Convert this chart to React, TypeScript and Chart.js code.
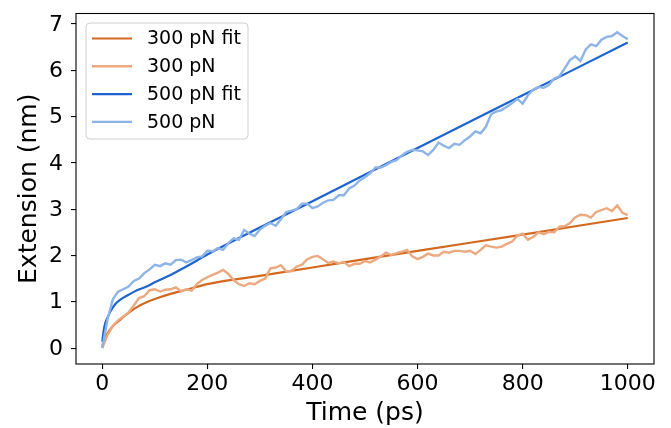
import React, { useEffect, useRef } from "react";
import { Chart, registerables } from "chart.js";

Chart.register(...registerables);

// sampling times of the measured traces (ps)
const time: number[] = Array.from({ length: 101 }, (_, i) => i * 10);

const ext300: number[] = [
  0.0, 0.28, 0.48, 0.6, 0.68, 0.77, 0.92, 1.08, 1.12, 1.25,
  1.27, 1.22, 1.26, 1.27, 1.31, 1.23, 1.27, 1.24, 1.38, 1.47,
  1.53, 1.58, 1.63, 1.69, 1.6, 1.47, 1.38, 1.34, 1.4, 1.38,
  1.45, 1.5, 1.72, 1.74, 1.79, 1.66, 1.66, 1.76, 1.8, 1.92,
  1.97, 1.99, 1.92, 1.84, 1.87, 1.83, 1.86, 1.77, 1.82, 1.82,
  1.88, 1.85, 1.91, 1.98, 2.06, 2.01, 2.05, 2.08, 2.12, 1.98,
  1.92, 1.97, 2.04, 2.0, 2.0, 2.08, 2.06, 2.1, 2.1, 2.08,
  2.1, 2.03, 2.12, 2.22, 2.19, 2.17, 2.19, 2.25, 2.3, 2.43,
  2.47, 2.34, 2.4, 2.5, 2.46, 2.51, 2.5, 2.62, 2.63, 2.7,
  2.82, 2.88, 2.87, 2.82, 2.94, 2.98, 3.02, 2.96, 3.08, 2.92,
  2.87,
];

const ext500: number[] = [
  0.0, 0.62, 1.05, 1.22, 1.27, 1.33, 1.45, 1.5, 1.62, 1.7,
  1.8, 1.77, 1.83, 1.8, 1.9, 1.91, 1.85, 1.9, 1.96, 1.98,
  2.1, 2.09, 2.16, 2.12, 2.27, 2.37, 2.34, 2.55, 2.47, 2.42,
  2.56, 2.64, 2.7, 2.64, 2.78, 2.94, 2.97, 3.0, 3.12, 3.12,
  3.02, 3.06, 3.14, 3.19, 3.2, 3.3, 3.3, 3.45, 3.51, 3.62,
  3.69, 3.78, 3.9, 3.9, 3.95, 4.02, 4.06, 4.16, 4.24, 4.28,
  4.27, 4.25, 4.17, 4.28, 4.44, 4.37, 4.32, 4.41, 4.39, 4.49,
  4.57, 4.68, 4.64, 4.78, 5.05, 5.11, 5.14, 5.21, 5.29, 5.38,
  5.28, 5.46, 5.58, 5.64, 5.62, 5.68, 5.82, 5.87, 6.04, 6.22,
  6.3, 6.2, 6.45, 6.56, 6.52, 6.66, 6.72, 6.74, 6.82, 6.74,
  6.67,
];

const fitTime300: number[] = [0, 5, 10, 20, 35, 50, 65, 80, 100, 130, 160, 200, 300, 400, 600, 800, 1000];
const fit300: number[] = [0.05, 0.22, 0.32, 0.47, 0.62, 0.76, 0.88, 0.97, 1.06, 1.17, 1.26, 1.38, 1.56, 1.74, 2.1, 2.45, 2.81];

const fitTime500: number[] = [0, 3, 6, 10, 16, 25, 35, 50, 66, 82, 100, 130, 160, 200, 400, 600, 800, 1000];
const fit500: number[] = [0.14, 0.4, 0.55, 0.66, 0.8, 0.95, 1.05, 1.15, 1.25, 1.32, 1.42, 1.58, 1.76, 2.02, 3.17, 4.32, 5.46, 6.6];

const xTicks: number[] = [0, 200, 400, 600, 800, 1000];
const yTicks: number[] = [0, 1, 2, 3, 4, 5, 6, 7];

const labels: string[] = ["300 pN fit", "300 pN", "500 pN fit", "500 pN"];
const colors: string[] = ["#d2691e", "#eca97f", "#1c64d0", "#8db4e8"];

const FONT = "'DejaVu Sans', sans-serif";

const frame = {
  id: "frame",
  afterDatasetsDraw(chart: any) {
    const { ctx, chartArea: a } = chart;
    ctx.save();
    ctx.strokeStyle = "#000";
    ctx.lineWidth = 1.1;
    ctx.strokeRect(a.left, a.top, a.right - a.left, a.bottom - a.top);

    // tick labels, placed through the scales
    ctx.fillStyle = "#000";
    ctx.font = `22px ${FONT}`;
    const xs = chart.scales.x;
    const ys = chart.scales.y;
    ctx.textAlign = "center";
    ctx.textBaseline = "middle";
    xTicks.forEach((v) => ctx.fillText(String(v), xs.getPixelForValue(v), a.bottom + 20));
    ctx.textAlign = "right";
    yTicks.forEach((v) => ctx.fillText(String(v), a.left - 13, ys.getPixelForValue(v) + 1));

    // legend
    const bx = 86, by = 23, bw = 162, bh = 116, r = 4;
    ctx.beginPath();
    ctx.moveTo(bx + r, by);
    ctx.lineTo(bx + bw - r, by);
    ctx.quadraticCurveTo(bx + bw, by, bx + bw, by + r);
    ctx.lineTo(bx + bw, by + bh - r);
    ctx.quadraticCurveTo(bx + bw, by + bh, bx + bw - r, by + bh);
    ctx.lineTo(bx + r, by + bh);
    ctx.quadraticCurveTo(bx, by + bh, bx, by + bh - r);
    ctx.lineTo(bx, by + r);
    ctx.quadraticCurveTo(bx, by, bx + r, by);
    ctx.closePath();
    ctx.fillStyle = "rgba(255,255,255,0.8)";
    ctx.fill();
    ctx.strokeStyle = "#d0d0d0";
    ctx.lineWidth = 1;
    ctx.stroke();
    chart.data.datasets.forEach((ds: any, i: number) => {
      const y = 38.5 + i * 27.8;
      ctx.beginPath();
      ctx.strokeStyle = ds.borderColor;
      ctx.lineWidth = ds.borderWidth;
      ctx.moveTo(92, y);
      ctx.lineTo(132, y);
      ctx.stroke();
      ctx.fillStyle = "#000";
      ctx.font = `19px ${FONT}`;
      ctx.textBaseline = "middle";
      ctx.textAlign = "left";
      ctx.fillText(ds.label, 147, y + 1);
    });
    ctx.restore();
  },
};

export default function App() {
  const ref = useRef<HTMLCanvasElement | null>(null);
  useEffect(() => {
    if (!ref.current) return;
    const chart = new Chart(ref.current, {
      type: "line",
      data: {
        datasets: [
          {
            label: labels[0],
            data: fitTime300.map((t, i) => ({ x: t, y: fit300[i] })),
            borderColor: colors[0],
            borderWidth: 2.2,
            pointRadius: 0,
            cubicInterpolationMode: "monotone",
            order: 4,
          },
          {
            label: labels[1],
            data: time.map((t, i) => ({ x: t, y: ext300[i] })),
            borderColor: colors[1],
            borderWidth: 2.4,
            pointRadius: 0,
            order: 3,
          },
          {
            label: labels[2],
            data: fitTime500.map((t, i) => ({ x: t, y: fit500[i] })),
            borderColor: colors[2],
            borderWidth: 2.2,
            pointRadius: 0,
            cubicInterpolationMode: "monotone",
            order: 2,
          },
          {
            label: labels[3],
            data: time.map((t, i) => ({ x: t, y: ext500[i] })),
            borderColor: colors[3],
            borderWidth: 2.4,
            pointRadius: 0,
            order: 1,
          },
        ] as any,
      },
      options: {
        animation: false,
        responsive: false,
        layout: { padding: { left: 0, top: 13.5, right: 17, bottom: 0 } },
        plugins: { legend: { display: false }, tooltip: { enabled: false } },
        scales: {
          x: {
            type: "linear",
            min: -50,
            max: 1050,
            afterBuildTicks: (s: any) => {
              s.ticks = xTicks.map((v) => ({ value: v }));
            },
            afterFit: (s: any) => {
              s.height = 64;
            },
            border: { display: false },
            grid: { drawOnChartArea: false, drawTicks: true, tickLength: 5, color: "#000", lineWidth: 1.1 },
            ticks: { display: false },
            title: { display: true, text: "Time (ps)", color: "#000", font: { family: FONT, size: 25 }, padding: { top: 0, bottom: 0 } },
          },
          y: {
            type: "linear",
            min: -0.344,
            max: 7.226,
            afterBuildTicks: (s: any) => {
              s.ticks = yTicks.map((v) => ({ value: v }));
            },
            afterFit: (s: any) => {
              s.width = 76;
            },
            border: { display: false },
            grid: { drawOnChartArea: false, drawTicks: true, tickLength: 5, color: "#000", lineWidth: 1.1 },
            ticks: { display: false },
            title: { display: true, text: "Extension (nm)", color: "#000", font: { family: FONT, size: 25 }, padding: { top: 14, bottom: 0 } },
          },
        },
      },
      plugins: [frame],
    });
    return () => chart.destroy();
  }, []);
  return (
    <div style={{ position: "absolute", left: 0, top: 0, width: 671, height: 428, background: "#fff" }}>
      <canvas ref={ref} width={671} height={428} style={{ width: 671, height: 428 }} />
    </div>
  );
}
